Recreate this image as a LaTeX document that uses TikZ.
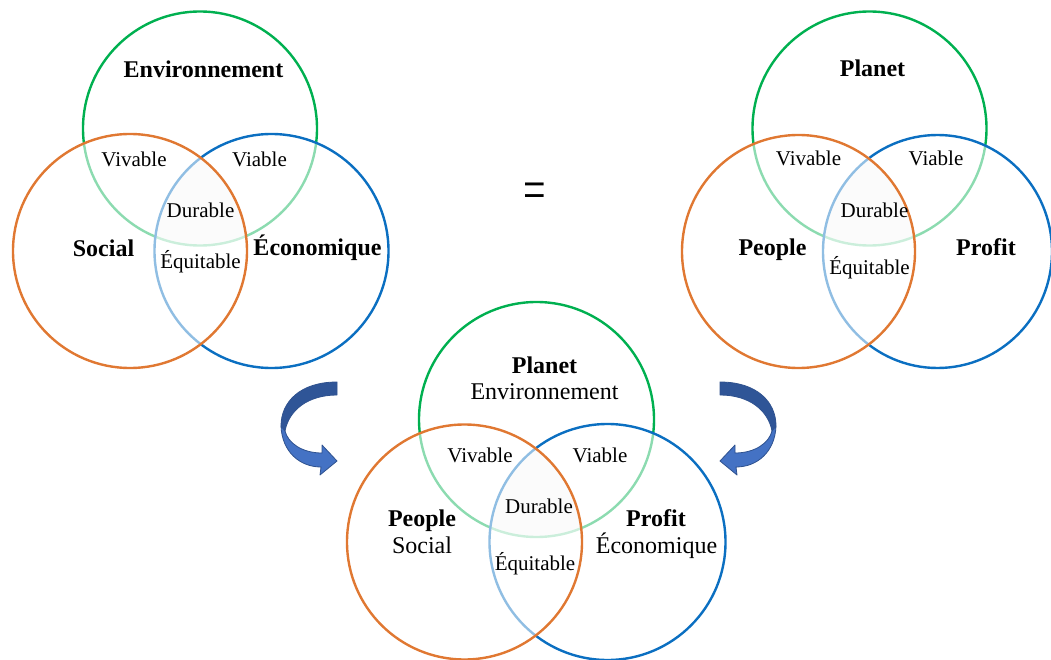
\documentclass[tikz,border=0pt]{standalone}
\usepackage{fontspec}
\setmainfont{Liberation Serif}
\definecolor{cgreen}{HTML}{00B050}
\definecolor{corange}{HTML}{E07832}
\definecolor{cblue}{HTML}{0B6FC1}
\definecolor{adark}{HTML}{2F5597}
\definecolor{alight}{HTML}{4472C4}
\definecolor{aedge}{HTML}{2F528F}
\begin{document}
\begin{tikzpicture}[x=1pt,y=-1pt,
  ring/.style={line width=2.4pt},
  veil/.style={fill=white,fill opacity=0.55},
  core/.style={fill=black!6},
  big/.style={anchor=base,inner sep=0pt,font=\fontsize{24}{27}\selectfont\bfseries},
  med/.style={anchor=base,inner sep=0pt,font=\fontsize{24}{27}\selectfont},
  sml/.style={anchor=base,inner sep=0pt,font=\fontsize{21}{24}\selectfont},
  arrowback/.style={fill=adark,draw=aedge,line width=0.8pt,line join=round},
  arrowfront/.style={fill=alight,draw=aedge,line width=0.8pt,line join=round}
]
\useasboundingbox (0,0) rectangle (1051,660);
\clip (0,0) rectangle (1051,660);

% ---------- left Venn ----------
\begin{scope}
  \clip (130,251) circle (117pt);
  \clip (271.5,251) circle (117pt);
  \fill[core] (200,128.5) circle (117pt);
\end{scope}
\draw[ring,cgreen] (200,128.5) circle (117pt);
\draw[ring,cblue,veil] (271.5,251) circle (117pt);
\draw[ring,corange,veil] (130,251) circle (117pt);

\node[big] (lenv) at (203.5,78) {Environnement};
\node[sml] (lviv) at (134,167) {Vivable};
\node[sml] (lvia) at (259.5,167) {Viable};
\node[sml] (ldur) at (200.5,218) {Durable};
\node[big] (lsoc) at (103.5,256) {Social};
\node[big] (leco) at (317.5,255) {Économique};
\node[sml] (lequ) at (200.5,269) {Équitable};

% ---------- right Venn ----------
\begin{scope}
  \clip (798.5,251.5) circle (116.5pt);
  \clip (937.5,251.5) ellipse (114.5pt and 116.5pt);
  \fill[core] (869.5,128.5) circle (117pt);
\end{scope}
\draw[ring,cgreen] (869.5,128.5) circle (117pt);
\draw[ring,cblue,veil] (937.5,251.5) ellipse (114.5pt and 116.5pt);
\draw[ring,corange,veil] (798.5,251.5) circle (116.5pt);

\node[big] (rpla) at (872.5,77) {Planet};
\node[sml] (rviv) at (808.5,166) {Vivable};
\node[sml] (rvia) at (936,166) {Viable};
\node[sml] (rdur) at (874.5,218) {Durable};
\node[big] (rpeo) at (772.5,255) {People};
\node[big] (rpro) at (986,255) {Profit};
\node[sml] (requ) at (869.5,274) {Équitable};

% ---------- bottom Venn ----------
\begin{scope}
  \clip (464.5,542) circle (117.5pt);
  \clip (607.5,542) circle (118pt);
  \fill[core] (536.5,419.5) circle (117.5pt);
\end{scope}
\draw[ring,cgreen] (536.5,419.5) circle (117.5pt);
\draw[ring,cblue,veil] (607.5,542) circle (118pt);
\draw[ring,corange,veil] (464.5,542) circle (117.5pt);

\node[big] (bpla) at (544.5,373) {Planet};
\node[med] (benv) at (544.5,399) {Environnement};
\node[sml] (bviv) at (480,462) {Vivable};
\node[sml] (bvia) at (600,462) {Viable};
\node[sml] (bdur) at (539,513) {Durable};
\node[big] (bpeo) at (422,526) {People};
\node[med] (bsoc) at (422,553) {Social};
\node[big] (bpro) at (656,526) {Profit};
\node[med] (beco) at (656.5,553) {Économique};
\node[sml] (bequ) at (535,570) {Équitable};

% ---------- equals sign ----------
\begin{scope}[shift={(535,196)},yscale=1.45,transform shape]
  \node[inner sep=0pt,font=\fontsize{40}{40}\selectfont] (eq) at (0,0) {=};
\end{scope}

% ---------- curved arrows ----------
\begin{scope}
  \path[arrowback] (337,382) .. controls (300,382) and (281,402) .. (281,426)
     -- (285,431) .. controls (289,410) and (308,395) .. (337,395) -- cycle;
  \path[arrowfront] (281,426) .. controls (282,452) and (300,467) .. (321,467)
     -- (320,475) -- (337,461) -- (322,445) -- (322,453)
     .. controls (302,453) and (288,443) .. (285,431) -- cycle;
\end{scope}
\begin{scope}[shift={(1057,0)},xscale=-1]
  \path[arrowback] (337,382) .. controls (300,382) and (281,402) .. (281,426)
     -- (285,431) .. controls (289,410) and (308,395) .. (337,395) -- cycle;
  \path[arrowfront] (281,426) .. controls (282,452) and (300,467) .. (321,467)
     -- (320,475) -- (337,461) -- (322,445) -- (322,453)
     .. controls (302,453) and (288,443) .. (285,431) -- cycle;
\end{scope}
\end{tikzpicture}
\end{document}
